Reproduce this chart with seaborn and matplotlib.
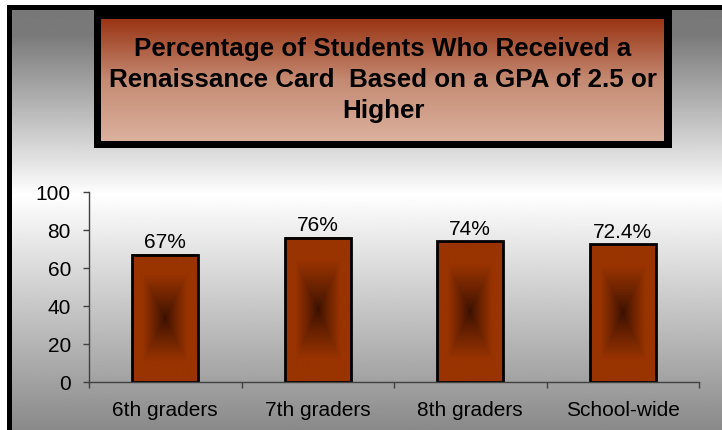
import numpy as np
import pandas as pd
import seaborn as sns
import matplotlib.pyplot as plt
from matplotlib.colors import LinearSegmentedColormap, to_rgb
from matplotlib.patches import Rectangle

groups = ["6th graders", "7th graders", "8th graders", "School-wide"]
percent = [67, 76, 74, 72.4]
value_labels = ["67%", "76%", "74%", "72.4%"]
title = "Percentage of Students Who Received a\nRenaissance Card  Based on a GPA of 2.5 or\nHigher"
yticks = [0, 20, 40, 60, 80, 100]

W, H = 722, 430
sns.set_theme(style="white")
plt.rcParams['font.family'] = ['Liberation Sans', 'DejaVu Sans']


def px(x0, y0, x1, y1):
    # pixel box (from top-left) -> figure fraction rect
    return [x0 / W, 1 - y1 / H, (x1 - x0) / W, (y1 - y0) / H]


fig = plt.figure(figsize=(W / 100, H / 100), dpi=100)
fig.patch.set_facecolor('white')

# grey background gradient (dark top, white middle, grey bottom)
bg = fig.add_axes(px(12, 10, W, H))
bg.set_zorder(-5)
bg.axis('off')
yy = np.linspace(0, 1, 400)
shade = np.interp(yy, [0, 0.06, 0.44, 1], [0.47, 0.48, 1.0, 0.54])
bg.imshow(shade[:, None], cmap='gray', vmin=0, vmax=1, aspect='auto', extent=[0, 1, 0, 1])

# black frame on the left and top
fig.add_artist(Rectangle((7 / W, 0), 5 / W, (H - 5) / H, transform=fig.transFigure,
                         color='black', lw=0, zorder=-3))
fig.add_artist(Rectangle((7 / W, 1 - 10 / H), (W - 7) / W, 5 / H, transform=fig.transFigure,
                         color='black', lw=0, zorder=-3))

# title box
fig.add_artist(Rectangle((94 / W, 1 - 148 / H), (672 - 94) / W, (148 - 10) / H,
                         transform=fig.transFigure, color='black', lw=0, zorder=-3))
tax = fig.add_axes(px(101, 19, 664, 141))
tax.set_zorder(-1)
tax.axis('off')
title_cmap = LinearSegmentedColormap.from_list('t', ['#9a3515', '#c48a72', '#dbb19e'])
tax.imshow(np.linspace(0, 1, 200)[:, None], cmap=title_cmap, aspect='auto', extent=[0, 1, 0, 1])
fig.text(383 / W, 1 - 80 / H, title, ha='center', va='center', fontsize=18.7,
         fontweight='bold', linespacing=1.38, color='black', zorder=10)

# bar chart
df = pd.DataFrame({'group': groups, 'percent': percent})
ax = fig.add_axes(px(89, 192, 699, 382))
ax.patch.set_alpha(0)
sns.barplot(data=df, x='group', y='percent', ax=ax, width=0.43, color='#993300',
            saturation=1, edgecolor='black', linewidth=2)

# rectangular "from centre" gradient on each bar
dark = np.array(to_rgb('#381000'))
edge = np.array(to_rgb('#993300'))
u = np.linspace(-1, 1, 120)
U, V = np.meshgrid(u, u)
t = np.clip(np.maximum(np.abs(U), np.abs(V)) / 0.68, 0, 1) ** 0.85
grad = dark + (edge - dark) * t[..., None]
for p in ax.patches:
    x0, w, h = p.get_x(), p.get_width(), p.get_height()
    ax.imshow(grad, extent=[x0, x0 + w, 0, h], aspect='auto', zorder=p.get_zorder() - 0.01)
    p.set_facecolor('none')

ax.set_xlim(-0.5, 3.5)
ax.set_ylim(0, 100)
ax.set_yticks(yticks)
ax.set_xlabel('')
ax.set_ylabel('')
ax.bar_label(ax.containers[0], labels=value_labels, padding=2, fontsize=15, color='black')

for s in ['top', 'right']:
    ax.spines[s].set_visible(False)
for s in ['left', 'bottom']:
    ax.spines[s].set_color('#404040')
    ax.spines[s].set_linewidth(1)

ax.set_xticks([-0.5, 0.5, 1.5, 2.5, 3.5], minor=True)
ax.tick_params(axis='x', which='major', length=0, labelsize=15, pad=14, labelcolor='black')
ax.tick_params(axis='x', which='minor', bottom=True, length=4, width=1, color='#404040', direction='out')
ax.tick_params(axis='y', left=True, length=4, width=1, color='#404040', direction='out',
               labelsize=15, pad=9, labelcolor='black')

fig.savefig('out.png', dpi=100)
